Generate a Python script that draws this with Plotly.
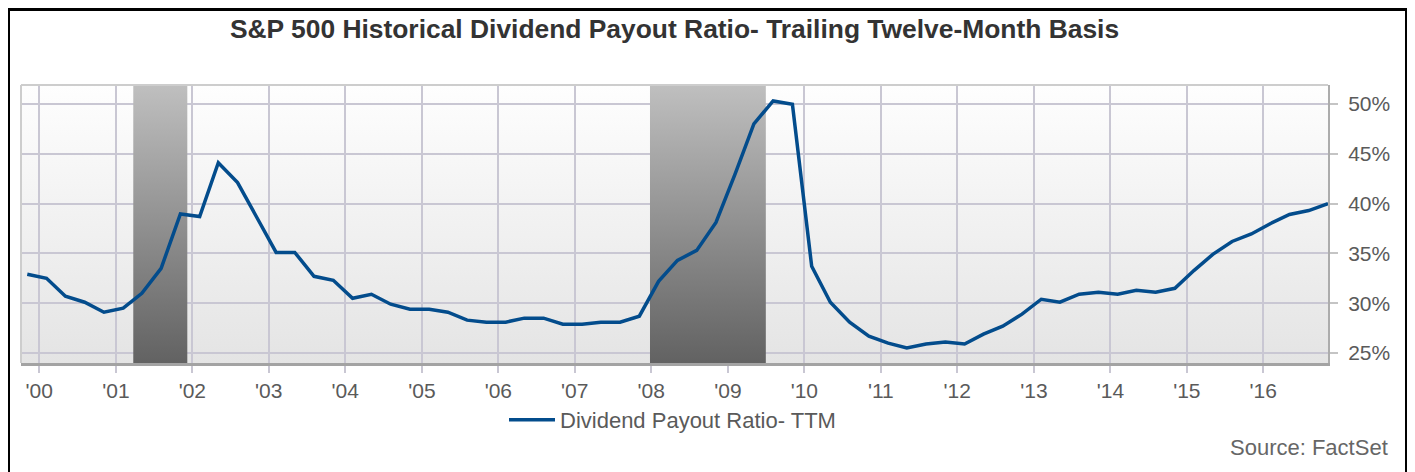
import base64
import plotly.graph_objects as go

# ---------------- data ----------------
# quarterly observations, starting Nov 1999
START_YEAR = 1999
START_MONTH = 11
payout_ratio = [
    32.9, 32.5, 30.7, 30.1, 29.1, 29.5, 31.0, 33.5, 38.96, 38.7,
    44.1, 42.1, 38.6, 35.1, 35.1, 32.7, 32.3, 30.5, 30.9, 29.9,
    29.4, 29.4, 29.1, 28.3, 28.1, 28.1, 28.5, 28.5, 27.9, 27.9,
    28.1, 28.1, 28.7, 32.2, 34.3, 35.3, 38.1, 43.0, 48.0, 50.3,
    49.97, 33.7, 30.1, 28.1, 26.7, 26.0, 25.5, 25.9, 26.1, 25.9,
    26.9, 27.7, 28.9, 30.4, 30.1, 30.9, 31.1, 30.9, 31.3, 31.1,
    31.5, 33.3, 34.9, 36.2, 36.95, 38.0, 38.9, 39.3, 40.0,
]
dates = []
for k in range(len(payout_ratio)):
    m = START_MONTH - 1 + 3 * k
    dates.append(f"{START_YEAR + m // 12}-{m % 12 + 1:02d}-05")

recession_starts = ["2001-03-25", "2007-12-26"]
recession_ends = ["2001-12-08", "2009-07-01"]

series_name = "Dividend Payout Ratio- TTM"
title_text = "S&P 500 Historical Dividend Payout Ratio- Trailing Twelve-Month Basis"
source_text = "Source: FactSet"

Y_MIN, Y_MAX = 24.0, 51.9
X_RANGE = ["1999-10-06", "2016-11-05"]

# page has an 8px body margin -> figure pixel = screen pixel - 8
OFF = 8
W, H = 1407, 464
PL, PR, PT, PB = 21 - OFF, 1328 - OFF, 85 - OFF, 363 - OFF   # plot area in figure px
PW, PH = PR - PL, PB - PT


def px_x(sx):
    """screen x -> paper x"""
    return (sx - OFF - PL) / PW


def px_y(sy):
    """screen y -> paper y"""
    return (PB - (sy - OFF)) / PH


FONT = "Liberation Sans, Arial, Helvetica, sans-serif"
GRID = "#c9c7d3"

fig = go.Figure()

# recession bands (vertical gradient fill)
for s, e in zip(recession_starts, recession_ends):
    fig.add_trace(go.Scatter(
        x=[s, s, e, e, s],
        y=[Y_MIN, Y_MAX, Y_MAX, Y_MIN, Y_MIN],
        mode="lines",
        line=dict(width=0),
        fill="toself",
        fillgradient=dict(type="vertical",
                          colorscale=[[0, "#626262"], [1, "#bfbfbf"]],
                          start=Y_MIN, stop=Y_MAX),
        hoverinfo="skip",
        showlegend=False,
    ))

fig.add_trace(go.Scatter(
    x=dates, y=payout_ratio, mode="lines", name=series_name,
    line=dict(color="#034c8c", width=3.5),
))

# plot background gradient (below gridlines)
svg = ('<svg xmlns="http://www.w3.org/2000/svg" width="10" height="100" '
       'preserveAspectRatio="none"><defs><linearGradient id="g" x1="0" y1="0" '
       'x2="0" y2="1"><stop offset="0" stop-color="#fefefe"/>'
       '<stop offset="1" stop-color="#e4e4e4"/></linearGradient></defs>'
       '<rect width="10" height="100" fill="url(#g)"/></svg>')
svg_uri = "data:image/svg+xml;base64," + base64.b64encode(svg.encode()).decode()

fig.update_layout(
    width=W, height=H,
    margin=dict(l=PL, r=W - PR, t=PT, b=H - PB),
    paper_bgcolor="white",
    plot_bgcolor="rgba(0,0,0,0)",
    font=dict(family=FONT, color="#5a5a5a", size=21),
    title=dict(text=f"<b>{title_text}</b>", x=0.5, xref="paper", xanchor="center",
               y=(H - (29 - OFF)) / H, yref="container", yanchor="middle",
               font=dict(size=26.4, color="#333333", family=FONT)),
    images=[dict(source=svg_uri, xref="paper", yref="paper", x=0, y=1,
                 sizex=1, sizey=1, sizing="stretch", layer="below",
                 xanchor="left", yanchor="top")],
    xaxis=dict(
        type="date", range=X_RANGE,
        tick0="2000-01-01", dtick="M12", tickformat="'%y",
        showgrid=True, gridcolor=GRID, gridwidth=2,
        ticks="outside", ticklen=7, tickwidth=2, tickcolor=GRID,
        showline=True, linecolor="#a3a3a3", linewidth=3,
        tickfont=dict(size=21, color="#5a5a5a"),
        zeroline=False,
    ),
    yaxis=dict(
        side="right", range=[Y_MIN, Y_MAX],
        tick0=0, dtick=5, ticksuffix="%",
        showgrid=True, gridcolor=GRID, gridwidth=2,
        ticks="outside", ticklen=8, tickwidth=2, tickcolor="#c4c4c4",
        showline=True, linecolor="#acacac", linewidth=2,
        tickfont=dict(size=21, color="#5a5a5a"),
        ticklabelstandoff=6,
        zeroline=False,
    ),
    legend=dict(orientation="h", x=px_x(504), xanchor="left",
                y=px_y(420), yanchor="middle", itemwidth=46,
                font=dict(size=22, color="#5a5a5a"),
                bgcolor="rgba(0,0,0,0)"),
    showlegend=True,
    shapes=[
        # light top and left frame of plot area
        dict(type="line", xref="paper", yref="paper", x0=0, x1=1, y0=1, y1=1,
             line=dict(color="#cdcdcd", width=2), layer="above"),
        dict(type="line", xref="paper", yref="paper", x0=0, x1=0, y0=0, y1=1,
             line=dict(color="#cdcdcd", width=2), layer="above"),
        # outer black border (top edge kept inside the figure canvas)
        dict(type="rect", xref="paper", yref="paper",
             x0=px_x(8.5), x1=px_x(1406.5),
             y0=px_y(520), y1=px_y(OFF + 1.5),
             line=dict(color="black", width=3), fillcolor="rgba(0,0,0,0)"),
    ],
    annotations=[dict(text=source_text, xref="paper", yref="paper",
                      x=px_x(1390), xanchor="right",
                      y=px_y(447), yanchor="middle", showarrow=False,
                      font=dict(size=22, color="#666666"))],
)

fig.write_html("out.html")
